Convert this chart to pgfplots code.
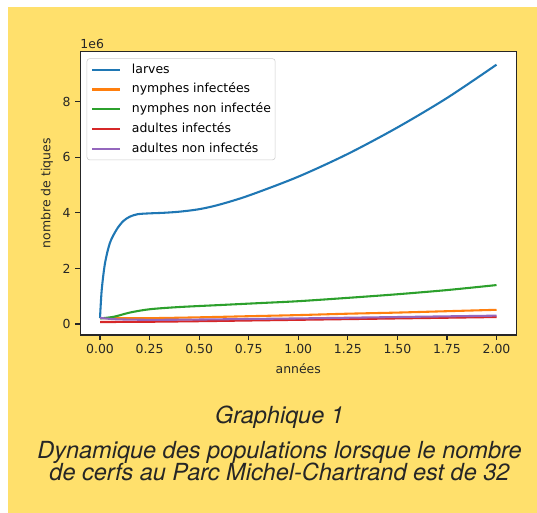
\documentclass[border=0pt]{standalone}
\usepackage{fontspec}
\setmainfont{DejaVu Sans}
\newfontfamily\capfont{TeX Gyre Heros}
\usepackage{pgfplots}
\pgfplotsset{compat=1.18}
\definecolor{bgyellow}{RGB}{255,224,108}
\definecolor{c0}{HTML}{1F77B4}
\definecolor{c1}{HTML}{FF7F0E}
\definecolor{c2}{HTML}{2CA02C}
\definecolor{c3}{HTML}{D62728}
\definecolor{c4}{HTML}{9467BD}
\begin{document}
\begin{tikzpicture}
\useasboundingbox (0,0) rectangle (388.1pt,370.7pt);
\fill[white] (0,0) rectangle (388.1pt,370.7pt);
\fill[bgyellow] (5.78pt,0) rectangle (388.1pt,365.7pt);
\begin{axis}[
  name=ax,
  at={(57.96pt,128.6pt)}, anchor=south west,
  scale only axis, width=315.2pt, height=204.7pt,
  xmin=-0.1, xmax=2.1, ymin=-0.396, ymax=9.795,
  axis background/.style={fill=white},
  axis line style={black!85, line width=0.8pt},
  xtick={0,0.25,0.5,0.75,1,1.25,1.5,1.75,2},
  ytick={0,2,4,6,8},
  xtick pos=bottom, ytick pos=left,
  tick align=outside, major tick length=3.5pt,
  every tick/.style={black!85, line width=0.8pt},
  /pgf/number format/assume math mode=true,
  xticklabel style={/pgf/number format/.cd, fixed, fixed zerofill, precision=2},
  yticklabel style={/pgf/number format/.cd, fixed, precision=0},
  tick label style={font=\fontsize{9}{11}\selectfont, text=black!85},
  label style={font=\fontsize{9}{11}\selectfont, text=black!85},
  xlabel={années}, ylabel={nombre de tiques},
  scaled y ticks=false,
  legend style={at={(0.0149,0.9767)}, anchor=north west, draw=black!20, fill=white, fill opacity=0.8, text opacity=1, rounded corners=2pt, font=\fontsize{9}{11}\selectfont, inner xsep=3pt, inner ysep=3.7pt, row sep=5.7pt, column sep=8pt, nodes={inner sep=0pt, text height=6.8pt, text depth=1.8pt}},
  legend cell align=left,
  legend image code/.code={\draw[#1, line width=1.5pt] (0pt,0pt) -- (20pt,0pt);},
  every axis plot/.append style={line width=1.5pt, line join=round},
]
\addplot[c0, smooth] coordinates {
(0,0.22) (0.0085,1.22) (0.025,2.18) (0.05,2.92) (0.084,3.40) (0.117,3.70) (0.15,3.86) (0.19,3.95) (0.25,3.98) (0.32,4.0) (0.40,4.04) (0.5,4.13) (0.6,4.29) (0.75,4.62) (1.0,5.30) (1.25,6.12) (1.5,7.07) (1.75,8.13) (2.0,9.33)};
\addlegendentry{larves}
\addplot[c1, smooth] coordinates {
(0,0.21) (0.25,0.21) (0.5,0.24) (0.75,0.28) (1.0,0.32) (1.25,0.37) (1.5,0.41) (1.75,0.46) (2.0,0.51)};
\addlegendentry{nymphes infectées}
\addplot[c2, smooth] coordinates {
(0,0.2) (0.07,0.26) (0.15,0.41) (0.25,0.53) (0.4,0.61) (0.6,0.68) (0.8,0.75) (1.0,0.82) (1.25,0.94) (1.5,1.07) (1.75,1.22) (2.0,1.40)};
\addlegendentry{nymphes non infectée}
\addplot[c3, smooth] coordinates {
(0,0.07) (0.25,0.08) (0.5,0.1) (0.75,0.125) (1.0,0.15) (1.25,0.175) (1.5,0.2) (1.75,0.225) (2.0,0.25)};
\addlegendentry{adultes infectés}
\addplot[c4, smooth] coordinates {
(0,0.22) (0.08,0.17) (0.25,0.15) (0.5,0.16) (0.75,0.18) (1.0,0.2) (1.25,0.225) (1.5,0.25) (1.75,0.275) (2.0,0.30)};
\addlegendentry{adultes non infectés}
\end{axis}
\node[anchor=south west, inner sep=0pt, font=\fontsize{9}{11}\selectfont, text=black!85] at ([yshift=2pt]ax.north west) {1e6};
\node[anchor=base, font=\capfont\itshape\fontsize{17}{20}\selectfont, text=black!85] at (202pt,64.5pt) {Graphique 1};
\node[anchor=base, font=\capfont\itshape\fontsize{17}{20}\selectfont, text=black!85] at (202pt,39.5pt) {Dynamique des populations lorsque le nombre};
\node[anchor=base, font=\capfont\itshape\fontsize{17}{20}\selectfont, text=black!85] at (202pt,23.5pt) {de cerfs au Parc Michel-Chartrand est de 32};
\end{tikzpicture}
\end{document}
